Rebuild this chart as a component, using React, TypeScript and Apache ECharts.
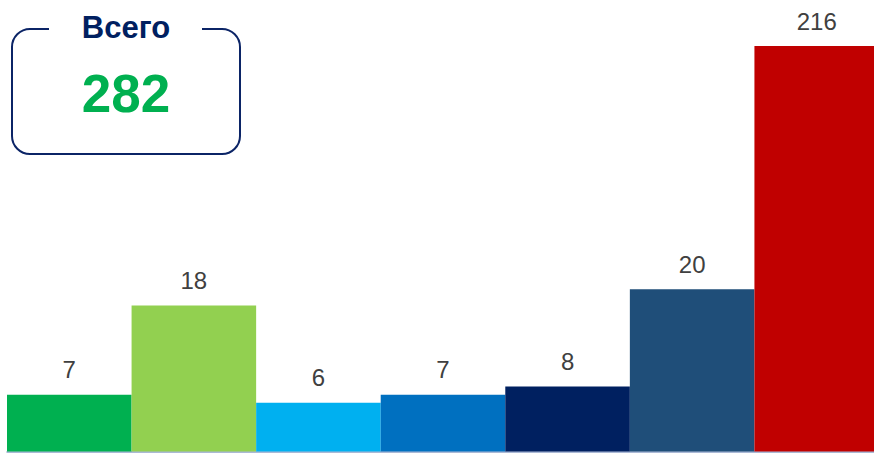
import React, { useEffect, useRef } from "react";
import * as echarts from "echarts";

const categories = ["A", "B", "C", "D", "E", "F", "G"];
const values = [7, 18, 6, 7, 8, 20, 216];
const barColors = ["#00B050", "#92D050", "#00B0F0", "#0070C0", "#002060", "#1F4E79", "#C00000"];
const totalTitle = "Всего";
const totalValue = 282;

export default function App() {
  const ref = useRef<HTMLDivElement>(null);
  useEffect(() => {
    if (!ref.current) return;
    const chart = echarts.init(ref.current, undefined, { renderer: "svg" });
    chart.setOption({
      animation: false,
      backgroundColor: "#ffffff",
      grid: { left: 7, width: 872, top: 46, bottom: 1.5, containLabel: false },
      xAxis: {
        type: "category",
        data: categories,
        axisLine: { show: true, lineStyle: { color: "#8FA2C8", width: 1.5 } },
        axisTick: { show: false },
        axisLabel: { show: false },
      },
      yAxis: {
        type: "value",
        min: 0,
        max: 50,
        show: false,
        splitLine: { show: false },
      },
      series: [
        {
          type: "bar",
          barCategoryGap: 0,
          barGap: 0,
          clip: true,
          data: values.map((v, i) => ({ value: v, itemStyle: { color: barColors[i] } })),
          label: {
            show: true,
            position: "top",
            distance: 13,
            color: "#404040",
            fontSize: 24,
            fontFamily: "Liberation Sans, Arial, sans-serif",
          },
        },
      ],
      graphic: [
        {
          type: "rect",
          shape: { x: 12, y: 29, width: 228, height: 125, r: 18 },
          style: { fill: "none", stroke: "#0B2466", lineWidth: 2 },
          z: 10,
        },
        {
          type: "rect",
          shape: { x: 49, y: 20, width: 153, height: 18 },
          style: { fill: "#ffffff" },
          z: 11,
        },
        {
          type: "text",
          x: 126,
          y: 27,
          z: 12,
          style: {
            text: totalTitle,
            fill: "#002060",
            font: "bold 31px 'Liberation Sans', Arial, sans-serif",
            align: "center",
            verticalAlign: "middle",
          },
        },
        {
          type: "text",
          x: 126,
          y: 93,
          z: 12,
          style: {
            text: String(totalValue),
            fill: "#00B050",
            font: "bold 53px 'Liberation Sans', Arial, sans-serif",
            align: "center",
            verticalAlign: "middle",
          },
        },
      ],
    });
    return () => chart.dispose();
  }, []);
  return (
    <div
      ref={ref}
      style={{ position: "fixed", top: 0, left: 0, width: 882, height: 453 }}
    />
  );
}
